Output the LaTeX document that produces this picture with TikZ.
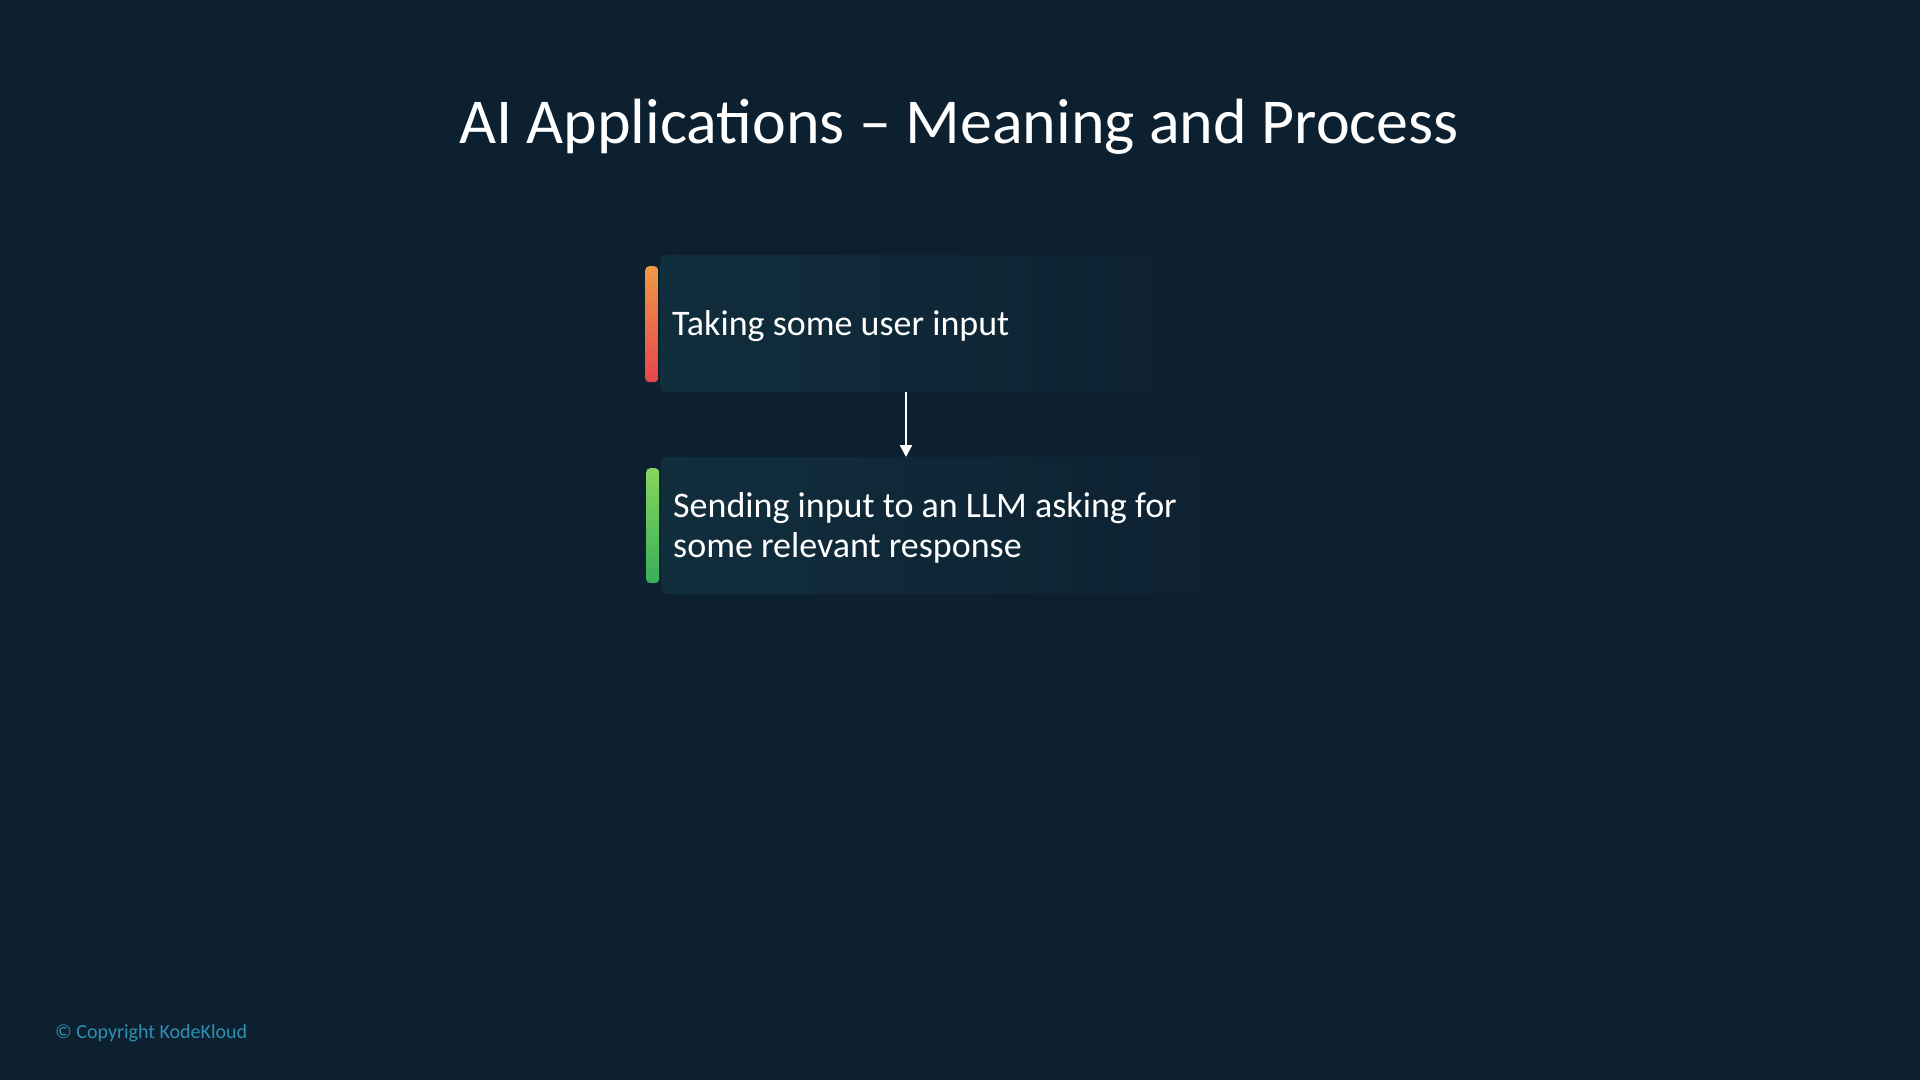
\documentclass[tikz,border=0pt]{standalone}
\usepackage{fontspec}
\setmainfont{Carlito}
\usetikzlibrary{arrows.meta}
\definecolor{bg}{HTML}{0D2030}
\definecolor{boxc}{HTML}{112E3D}
\definecolor{orangetop}{HTML}{EE9A45}
\definecolor{redbot}{HTML}{E5454D}
\definecolor{greentop}{HTML}{86D65C}
\definecolor{greenbot}{HTML}{38AE5A}
\definecolor{copyc}{HTML}{2E90B2}
\tikzset{
  stepbox/.style={draw=none, rounded corners=5pt, inner sep=0pt},
  barstyle/.style={draw=none, rounded corners=4pt, inner sep=0pt, minimum width=13pt},
  steptext/.style={anchor=west, text=white, font=\fontsize{36}{40}\selectfont, align=left, inner sep=0pt},
  flow/.style={draw=white, line width=2.4pt, -{Triangle[length=12pt,width=12pt]}}
}
\begin{document}
\begin{tikzpicture}[x=1pt,y=-1pt]
\fill[bg] (0,0) rectangle (1920,1080);
\useasboundingbox (0,0) rectangle (1920,1080);
\node[anchor=base, text=white, font=\fontsize{64}{74}\selectfont, inner sep=0pt] (title) at (959,143) {AI Applications – Meaning and Process};
% box 1
\node[stepbox, minimum width=555pt, minimum height=137pt, anchor=north west, left color=boxc, right color=bg] (b1) at (660,255) {};
\node[barstyle, minimum height=116pt, anchor=north west, top color=orangetop, bottom color=redbot] (bar1) at (645,266) {};
\node[steptext] (t1) at (672,326) {Taking some user input};
% box 2
\node[stepbox, minimum width=610pt, minimum height=137pt, anchor=north west, left color=boxc, right color=bg] (b2) at (661,457) {};
\node[barstyle, minimum height=115pt, anchor=north west, top color=greentop, bottom color=greenbot] (bar2) at (646,468) {};
\node[steptext] (t2) at (673,528) {Sending input to an LLM asking for\\some relevant response};
% arrow
\coordinate (ax) at (906,0);
\draw[flow] (b1.south -| ax) -- (b2.north -| ax);
% copyright
\node[anchor=base west, text=copyc, font=\fontsize{20}{24}\selectfont, inner sep=0pt] (copy) at (55,1038) {© Copyright KodeKloud};
\end{tikzpicture}
\end{document}
